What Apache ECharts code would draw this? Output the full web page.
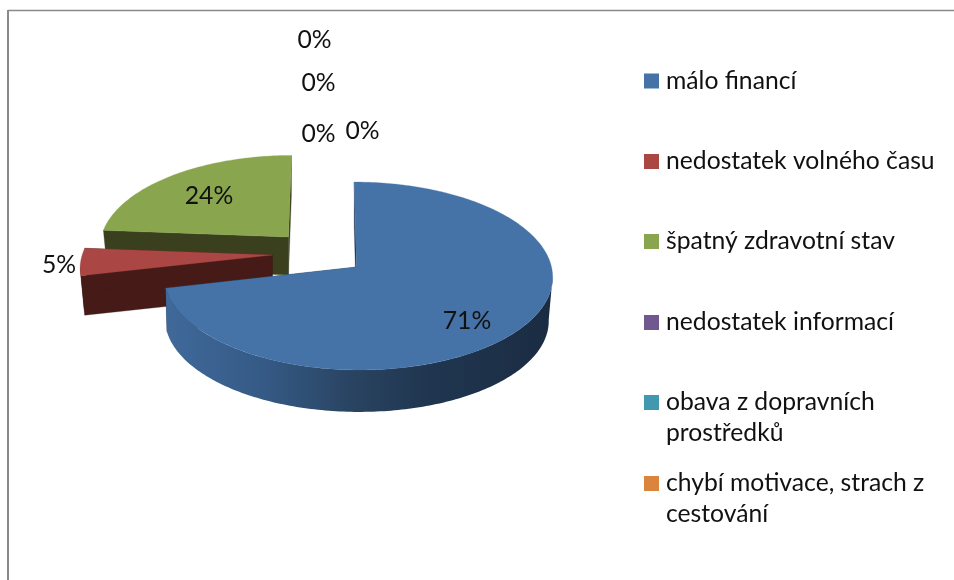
<!DOCTYPE html>
<html><head><meta charset="utf-8">
<style>html,body{margin:0;padding:0;background:#fff}#c{width:954px;height:580px}</style>
<script src="https://cdn.jsdelivr.net/npm/echarts@6/dist/echarts.min.js"></script>
</head><body><div id="c"></div>
<script>
// Data
const categories = ['málo financí','nedostatek volného času','špatný zdravotní stav','nedostatek informací','obava z dopravních\nprostředků','chybí motivace, strach z\ncestování','(další)'];
const values = [15,1,5,0,0,0,0];
// Palette
const topColors = ['#4572A7','#AA4643','#89A54E','#71588F','#4198AF','#DB843D','#4572A7'];
const faceColors = ['#1f3450','#451a17','#3a401d','#2d2339','#1a3d46','#583518','#1f3450'];
// Layout
const layout = [
  {ax:356.5, ay:267, s:1.0,  sl:0.985, bl:1.014, skew:-2.5, d:44, z:3},
  {ax:272.3, ay:255, s:0.975, sl:1, bl:1, skew:9.6,  d:40, z:2},
  {ax:288.5, ay:237, s:0.96, sl:1, bl:1, skew:3.4,  d:38, z:1},
  {ax:356.5, ay:267, s:1, sl:1, bl:1, skew:0, d:0, z:4},
  {ax:356.5, ay:267, s:1, sl:1, bl:1, skew:0, d:0, z:4},
  {ax:356.5, ay:267, s:1, sl:1, bl:1, skew:0, d:0, z:4},
  {ax:356.5, ay:267, s:1, sl:1, bl:1, skew:0, d:0, z:4}
];
const RX = 195, RY = 93.1, K = 0.0958, BOTTOM = 0.98;
const labelPos = [[467,321],[59,265],[209,196],[362.5,131],[318.5,134],[318.5,83],[314.5,40]];
const legendCenterY = [81,161.5,241.5,322.5,402.5,483.5];
const FONT = 'Lato';
const FS = 24.7;
const LINE = 31;

const total = values.reduce((a,b)=>a+b,0);
const starts = []; values.reduce((acc,v,i)=>{starts[i]=acc; return acc+v/total*360;},0);
const D2R = Math.PI/180;
const EXT_R = Math.acos(-K)/D2R, EXT_L = 360-EXT_R;

function rim(l,deg,bottom){
  const t = deg*D2R, w = 1+K*Math.cos(t), sc = l.s*(bottom?BOTTOM:1), sn=Math.sin(t);
  const xs = sn<0 ? l.sl*(bottom?l.bl:1) : 1;
  return [l.ax + sc*(RX*sn*xs+l.skew*Math.cos(t))/w,
          l.ay + (bottom?l.d:0) - sc*RY*Math.cos(t)/w];
}
function arcPts(l,a,b,bottom){
  const pts=[]; const n=Math.max(1,Math.ceil(Math.abs(b-a)));
  for(let i=0;i<=n;i++) pts.push(rim(l,a+(b-a)*i/n,bottom));
  return pts;
}
function poly(points,fill){ return {type:'polygon',silent:true,shape:{points},style:{fill,stroke:fill,lineWidth:0.3}}; }

function renderSlice(i){
  return function(params,api){
    const v = api.value(0), l = layout[i], children = [];
    const a = starts[i], b = a+v/total*360;
    if(v>0){
      const apexT=[l.ax,l.ay], apexB=[l.ax,l.ay+l.d];
      const face=topColors[i], dark=faceColors[i];
      [a,b].forEach(ang=>{
        children.push(poly([apexT,rim(l,ang,false),rim(l,ang,true),apexB],dark));
      });
      const sa=Math.max(a,EXT_R), sb=Math.min(b,EXT_L);
      if(sb>sa){
        const side = i===0 ? {type:'linear',x:0,y:0,x2:1,y2:0,colorStops:[
          {offset:0,color:'#40699a'},{offset:0.25,color:'#355a86'},{offset:0.5,color:'#28425f'},
          {offset:0.68,color:'#203650'},{offset:1,color:'#1a2c42'}]} : dark;
        children.push({type:'polygon',silent:true,
          shape:{points:arcPts(l,sa,sb,false).concat(arcPts(l,sb,sa,true))},
          style:{fill:side}});
      }
      children.push(poly([apexT].concat(arcPts(l,a,b,false)),face));
    }
    const p=labelPos[i];
    children.push({type:'text',silent:true,z2:20,style:{
      text:Math.round(v/total*100)+'%',x:p[0],y:p[1],fill:'#111',
      font:FS+'px '+FONT,align:'center',verticalAlign:'middle'}});
    return {type:'group',children};
  };
}

const chart = echarts.init(document.getElementById('c'),null,{renderer:'canvas'});
chart.setOption({
  animation:false,
  backgroundColor:'#fff',
  tooltip:{show:false},
  legend:categories.slice(0,6).map((name,i)=>{
    const two=name.indexOf('\n')>=0;
    return {
      data:[name],orient:'vertical',left:644,
      top:legendCenterY[i]-(two?1.5*LINE:0.5*LINE),
      itemWidth:15,itemHeight:15,padding:0,icon:'rect',
      selectedMode:false,
      formatter:n=>n.indexOf('\n')>=0?'\n'+n:n,
      textStyle:{fontFamily:FONT,fontSize:FS,color:'#111',lineHeight:LINE,padding:[0,0,0,2]}
    };
  }),
  series:categories.map((name,i)=>({
    type:'custom',name,coordinateSystem:'none',z:layout[i].z,
    itemStyle:{color:topColors[i]},
    data:[[values[i]]],renderItem:renderSlice(i),silent:true
  })),
  graphic:[
    {type:'line',silent:true,shape:{x1:8,y1:10.5,x2:954,y2:10.5},style:{stroke:'#8a8a8a',lineWidth:1.5}},
    {type:'line',silent:true,shape:{x1:8,y1:10,x2:8,y2:580},style:{stroke:'#8a8a8a',lineWidth:2}}
  ]
});
</script></body></html>
